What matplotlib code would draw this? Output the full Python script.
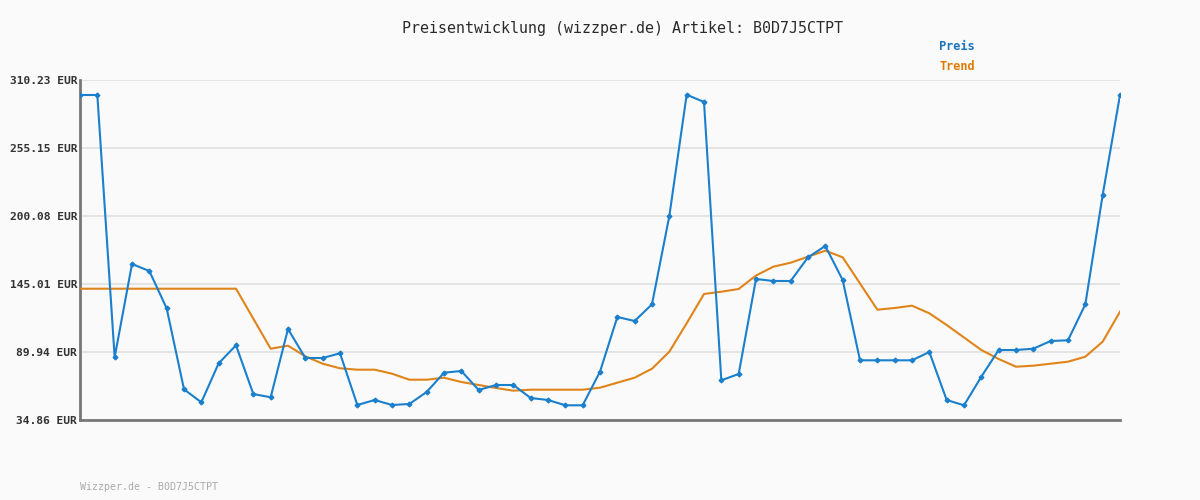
import numpy as np
import matplotlib
matplotlib.use("Agg")
import matplotlib.pyplot as plt

title = "Preisentwicklung (wizzper.de) Artikel: B0D7J5CTPT"
footer = "Wizzper.de - B0D7J5CTPT"

y_ticks = [34.86, 89.94, 145.01, 200.08, 255.15, 310.23]

preis = [298.08, 298.08, 85.64, 161.21, 155.54, 125.33, 59.72, 49.19, 80.78, 95.36,
         55.92, 53.25, 108.56, 85.08, 85.08, 88.88, 47.01, 51.06, 47.01, 47.82,
         57.54, 73.17, 74.55, 59.15, 63.20, 63.20, 52.68, 51.06, 46.77, 46.77,
         73.98, 118.28, 115.04, 128.57, 200.08, 298.32, 292.41, 67.02, 72.12, 149.06,
         147.44, 147.44, 166.63, 175.78, 148.25, 83.21, 83.21, 83.21, 83.21, 89.93,
         51.06, 46.77, 69.93, 91.55, 91.55, 92.61, 98.84, 99.41, 128.57, 217.09,
         298.08]

trend = [141.20, 141.20, 141.20, 141.20, 141.20, 141.20, 141.20, 141.20, 141.20, 141.20,
         116.90, 92.61, 95.04, 86.45, 80.46, 76.73, 75.60, 75.60, 72.36, 67.50,
         67.50, 69.12, 65.64, 63.20, 60.78, 58.59, 59.40, 59.40, 59.40, 59.40,
         61.02, 65.07, 69.12, 76.41, 90.18, 113.18, 136.91, 138.77, 140.96, 151.89,
         159.02, 162.26, 167.12, 171.98, 166.63, 145.41, 124.20, 125.57, 127.44, 121.28,
         111.80, 101.68, 91.55, 84.26, 78.03, 78.84, 80.46, 82.08, 86.13, 98.28,
         122.58]

blue = '#1a7fcc'
orange = '#e08419'
bg = '#fafafa'
mono = 'DejaVu Sans Mono'

fig = plt.figure(figsize=(12, 5), dpi=100, facecolor=bg)
ax = fig.add_axes([80/1200, 0.16, 1040/1200, 0.68], facecolor=bg)

x = np.arange(len(preis))
ax.plot(x, trend, color=orange, lw=1.5, zorder=3)
ax.plot(x, preis, color=blue, lw=1.5, marker='D', markersize=2.4, zorder=4)

ax.set_xlim(0, len(preis) - 1)
ax.set_ylim(y_ticks[0], y_ticks[-1])
ax.set_xticks([])
ax.set_yticks(y_ticks)
ax.set_yticklabels([f"{v:.2f} EUR" for v in y_ticks], fontfamily=mono,
                   fontweight='bold', fontsize=8.1, color='#333333')
ax.tick_params(axis='y', length=0, pad=2)
ax.yaxis.grid(True, color='#e4e4e4', lw=1.5, zorder=0)

for side in ['top', 'right']:
    ax.spines[side].set_visible(False)
for side in ['left', 'bottom']:
    ax.spines[side].set_color('#777777')
    ax.spines[side].set_linewidth(2)

fig.text(623/1200, 1 - 28/500, title, ha='center', va='center',
         fontfamily=mono, fontsize=10.8, color='#2a2a2a')
fig.text(939/1200, 1 - 47/500, "Preis", ha='left', va='center',
         fontfamily=mono, fontweight='bold', fontsize=8.6, color='#1a73c0')
fig.text(939/1200, 1 - 67/500, "Trend", ha='left', va='center',
         fontfamily=mono, fontweight='bold', fontsize=8.6, color='#e07b00')
fig.text(80/1200, 1 - 487/500, footer, ha='left', va='center',
         fontfamily=mono, fontsize=7.2, color='#aaaaaa')

fig.savefig('out.png', dpi=100, facecolor=bg)
